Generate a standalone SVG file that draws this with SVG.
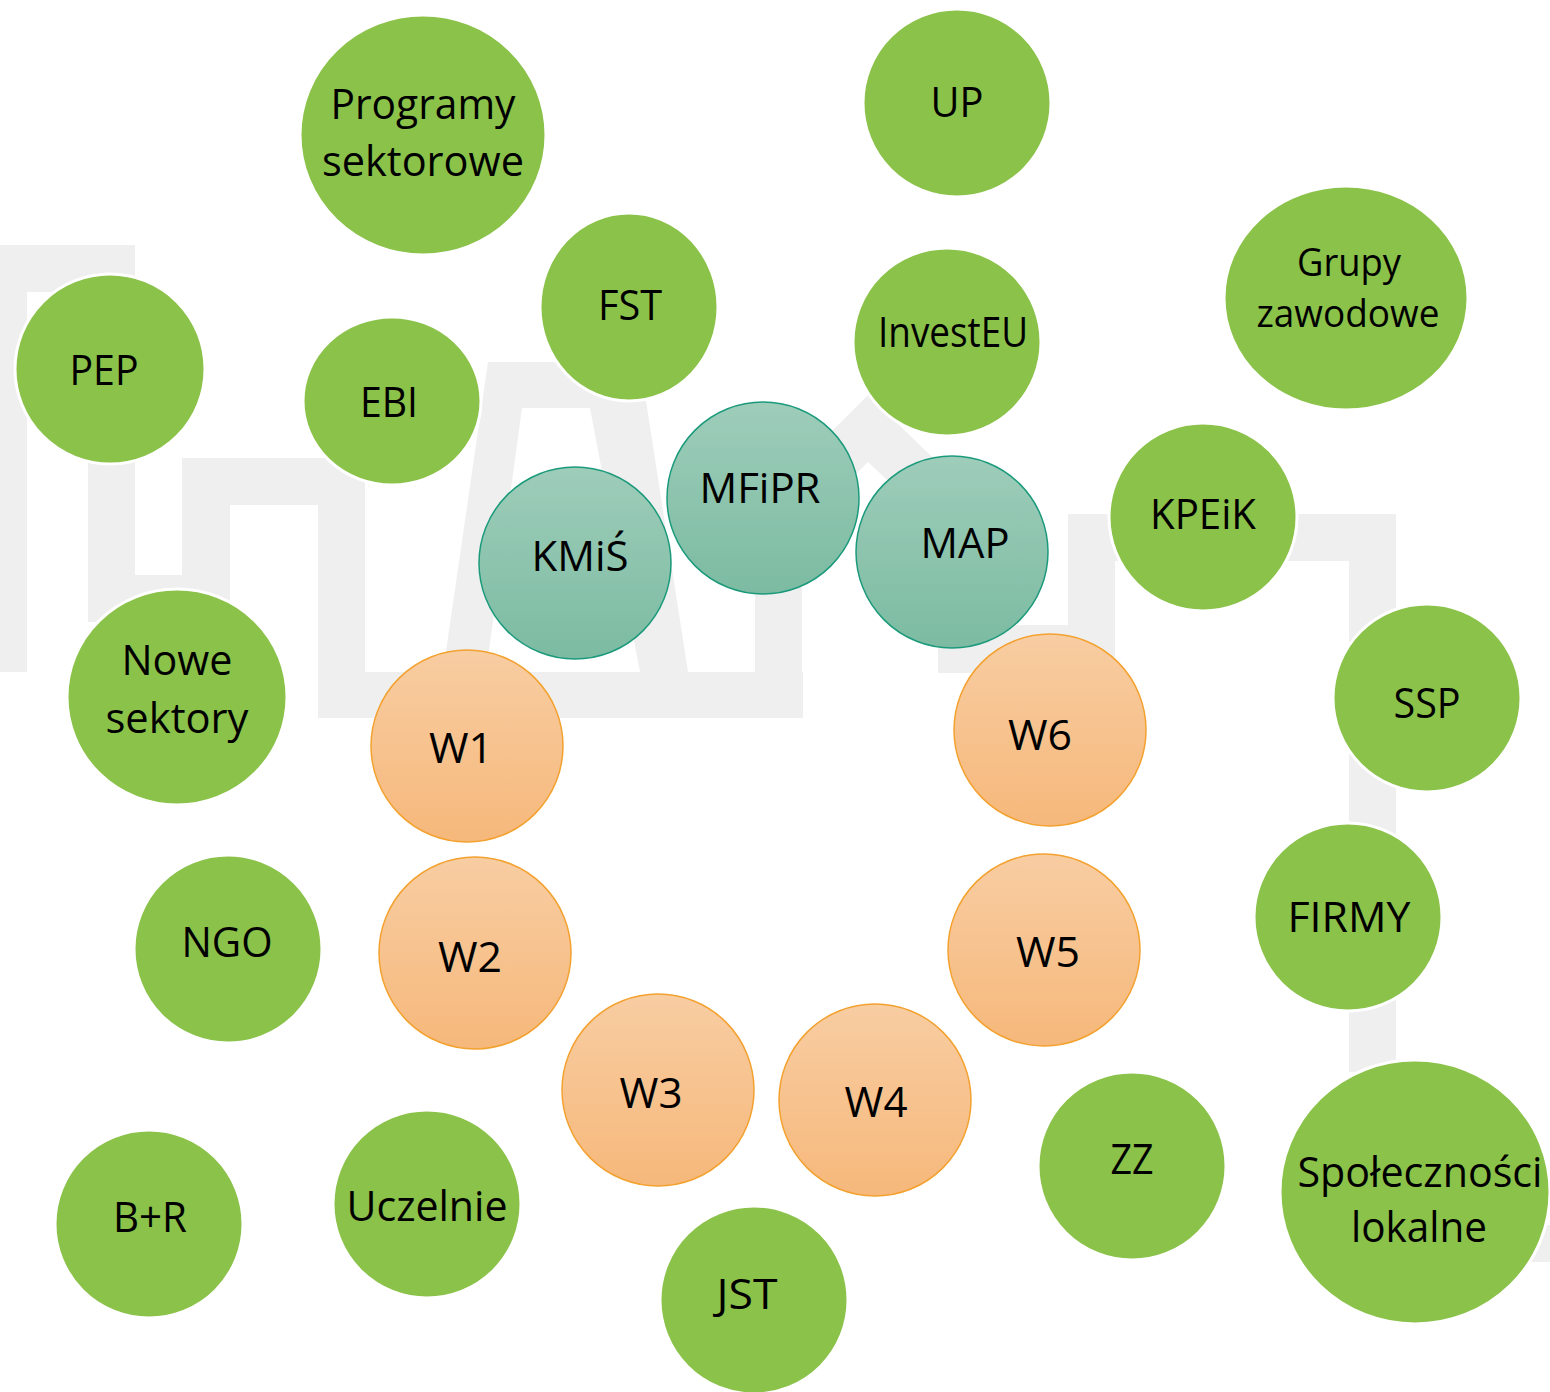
<svg xmlns="http://www.w3.org/2000/svg" width="1550" height="1392" viewBox="0 0 1550 1392">
<defs>
<linearGradient id="gTeal" x1="0" y1="0" x2="0" y2="1">
<stop offset="0" stop-color="#9ecdba"/>
<stop offset="1" stop-color="#7cbba2"/>
</linearGradient>
<linearGradient id="gOrange" x1="0" y1="0" x2="0" y2="1">
<stop offset="0" stop-color="#f8cda2"/>
<stop offset="1" stop-color="#f6b87b"/>
</linearGradient>
<style>
.wm{fill:#efefef;}
.green{fill:#8bc24a;stroke:#ffffff;stroke-width:3;}
.teal{fill:url(#gTeal);stroke:#1b9a7b;stroke-width:1.5;}
.orange{fill:url(#gOrange);stroke:#f3a12f;stroke-width:1.5;}
text{font-family:"Open Sans","Noto Sans","DejaVu Sans",sans-serif;font-size:42px;fill:#000000;text-anchor:middle;}
.sm{font-size:38px;}
</style>
</defs>
<rect x="0" y="0" width="1550" height="1392" fill="#ffffff"/>
<g id="watermark">
<path class="wm" d="M0,245 H135 V575 H182 V458 H365 V672 H803 V718 H318 V505 H230 V622 H88 V292 H27 V672 H0 Z"/>
<path class="wm" fill-rule="evenodd" d="M488,362 H640 L688,672 H443 Z M522,408 H590 L640,672 H486 Z"/>
<path class="wm" d="M755,718 V508 L868,395 L985,508 V625 H1068 V514 H1396 V1072 H1349 V561 H1115 V673 H938 V528 L868,462 L802,528 V718 Z"/>
<rect class="wm" x="1500" y="1225" width="50" height="37"/>
</g>
<g id="node-programy"><ellipse class="green" cx="423" cy="135" rx="123" ry="120"/><text x="423" y="119" textLength="185" lengthAdjust="spacingAndGlyphs">Programy</text><text x="423" y="176" textLength="202" lengthAdjust="spacingAndGlyphs">sektorowe</text></g>
<g id="node-up"><circle class="green" cx="957" cy="103" r="94"/><text x="957" y="117" textLength="53" lengthAdjust="spacingAndGlyphs">UP</text></g>
<g id="node-grupy"><ellipse class="green" cx="1346" cy="298" rx="122" ry="112"/><text class="sm" x="1349" y="276" textLength="104" lengthAdjust="spacingAndGlyphs">Grupy</text><text class="sm" x="1348" y="327" textLength="183" lengthAdjust="spacingAndGlyphs">zawodowe</text></g>
<g id="node-pep"><circle class="green" cx="110" cy="369" r="95"/><text x="104" y="385" textLength="69" lengthAdjust="spacingAndGlyphs">PEP</text></g>
<g id="node-ebi"><ellipse class="green" cx="392" cy="401" rx="89" ry="84"/><text x="389" y="417" textLength="58" lengthAdjust="spacingAndGlyphs">EBI</text></g>
<g id="node-fst"><ellipse class="green" cx="629" cy="307" rx="89" ry="94"/><text x="630" y="320" textLength="64" lengthAdjust="spacingAndGlyphs">FST</text></g>
<g id="node-investeu"><circle class="green" cx="947" cy="342" r="94"/><text x="953" y="347" textLength="150" lengthAdjust="spacingAndGlyphs">InvestEU</text></g>
<g id="node-kpeik"><circle class="green" cx="1203" cy="517" r="94"/><text x="1203" y="529" textLength="106" lengthAdjust="spacingAndGlyphs">KPEiK</text></g>
<g id="node-nowe"><ellipse class="green" cx="177" cy="697" rx="110" ry="108"/><text x="177" y="675" textLength="111" lengthAdjust="spacingAndGlyphs">Nowe</text><text x="177" y="733" textLength="143" lengthAdjust="spacingAndGlyphs">sektory</text></g>
<g id="node-ssp"><circle class="green" cx="1427" cy="698" r="94"/><text x="1427" y="718" textLength="67" lengthAdjust="spacingAndGlyphs">SSP</text></g>
<g id="node-ngo"><circle class="green" cx="228" cy="949" r="94"/><text x="227" y="957" textLength="91" lengthAdjust="spacingAndGlyphs">NGO</text></g>
<g id="node-firmy"><circle class="green" cx="1348" cy="917" r="94"/><text x="1349" y="932" textLength="123" lengthAdjust="spacingAndGlyphs">FIRMY</text></g>
<g id="node-br"><circle class="green" cx="149" cy="1224" r="94"/><text x="150" y="1232" textLength="74" lengthAdjust="spacingAndGlyphs">B+R</text></g>
<g id="node-uczelnie"><circle class="green" cx="427" cy="1204" r="94"/><text x="427" y="1221" textLength="161" lengthAdjust="spacingAndGlyphs">Uczelnie</text></g>
<g id="node-jst"><circle class="green" cx="754" cy="1300" r="94"/><text x="747" y="1309" textLength="61" lengthAdjust="spacingAndGlyphs">JST</text></g>
<g id="node-zz"><circle class="green" cx="1132" cy="1166" r="94"/><text x="1132" y="1174" textLength="43" lengthAdjust="spacingAndGlyphs">ZZ</text></g>
<g id="node-spolecznosci"><ellipse class="green" cx="1415" cy="1192" rx="135" ry="132"/><text x="1420" y="1187" textLength="245" lengthAdjust="spacingAndGlyphs">Społeczności</text><text x="1419" y="1242" textLength="136" lengthAdjust="spacingAndGlyphs">lokalne</text></g>
<g id="node-kmis"><circle class="teal" cx="575" cy="563" r="96"/><text x="580" y="571" textLength="97" lengthAdjust="spacingAndGlyphs">KMiŚ</text></g>
<g id="node-mfipr"><circle class="teal" cx="763" cy="498" r="96"/><text x="760" y="503" textLength="121" lengthAdjust="spacingAndGlyphs">MFiPR</text></g>
<g id="node-map"><circle class="teal" cx="952" cy="552" r="96"/><text x="965" y="558" textLength="89" lengthAdjust="spacingAndGlyphs">MAP</text></g>
<g id="node-w1"><circle class="orange" cx="467" cy="746" r="96"/><text x="461" y="763" textLength="64" lengthAdjust="spacingAndGlyphs">W1</text></g>
<g id="node-w2"><circle class="orange" cx="475" cy="953" r="96"/><text x="470" y="972" textLength="64" lengthAdjust="spacingAndGlyphs">W2</text></g>
<g id="node-w3"><circle class="orange" cx="658" cy="1090" r="96"/><text x="651" y="1108" textLength="63" lengthAdjust="spacingAndGlyphs">W3</text></g>
<g id="node-w4"><circle class="orange" cx="875" cy="1100" r="96"/><text x="876" y="1117" textLength="63" lengthAdjust="spacingAndGlyphs">W4</text></g>
<g id="node-w5"><circle class="orange" cx="1044" cy="950" r="96"/><text x="1048" y="967" textLength="64" lengthAdjust="spacingAndGlyphs">W5</text></g>
<g id="node-w6"><circle class="orange" cx="1050" cy="730" r="96"/><text x="1040" y="750" textLength="64" lengthAdjust="spacingAndGlyphs">W6</text></g>
</svg>
